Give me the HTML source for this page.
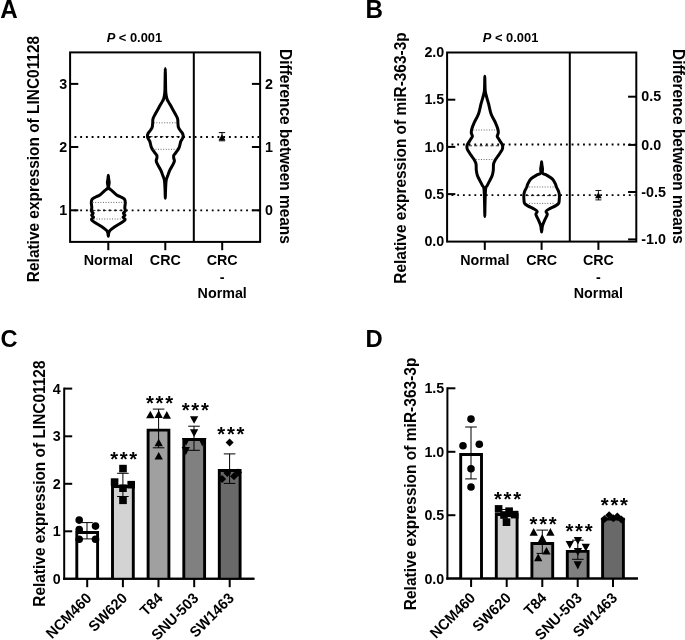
<!DOCTYPE html>
<html lang="en">
<head>
<meta charset="utf-8">
<title>Figure: LINC01128 and miR-363-3p expression</title>
<style>
html,body{margin:0;padding:0;background:#fff;}
body{width:685px;height:640px;overflow:hidden;}
svg{display:block;will-change:transform;}
svg text{font-family:"Liberation Sans", sans-serif;fill:#000;}
</style>
</head>
<body>
<svg width="685" height="640" viewBox="0 0 685 640">
<rect x="0" y="0" width="685" height="640" fill="#fff"/>
<text transform="translate(0.30 18.00) scale(1 1.03)" font-size="24.2" font-weight="bold" text-anchor="start">A</text>
<text transform="translate(365.60 18.00) scale(1 1.03)" font-size="24.2" font-weight="bold" text-anchor="start">B</text>
<text transform="translate(0.40 347.40) scale(1 1.03)" font-size="23.6" font-weight="bold" text-anchor="start">C</text>
<text transform="translate(365.60 347.40) scale(1 1.03)" font-size="23.8" font-weight="bold" text-anchor="start">D</text>
<rect x="70.10" y="52.40" width="190.00" height="189.50" fill="none" stroke="#000" stroke-width="2"/>
<line x1="193.80" y1="52.40" x2="193.80" y2="241.90" stroke="#000" stroke-width="2"/>
<text transform="translate(134.4 42.4) scale(1 1.03)" font-size="12.9" font-weight="bold" text-anchor="middle"><tspan font-style="italic">P</tspan> &lt; 0.001</text>
<line x1="70.10" y1="83.90" x2="78.30" y2="83.90" stroke="#000" stroke-width="2"/>
<text transform="translate(67.20 88.50) scale(1 1.03)" font-size="14.3" font-weight="bold" text-anchor="end">3</text>
<line x1="70.10" y1="147.00" x2="78.30" y2="147.00" stroke="#000" stroke-width="2"/>
<text transform="translate(67.20 151.60) scale(1 1.03)" font-size="14.3" font-weight="bold" text-anchor="end">2</text>
<line x1="70.10" y1="210.30" x2="78.30" y2="210.30" stroke="#000" stroke-width="2"/>
<text transform="translate(67.20 214.90) scale(1 1.03)" font-size="14.3" font-weight="bold" text-anchor="end">1</text>
<line x1="260.10" y1="83.90" x2="251.90" y2="83.90" stroke="#000" stroke-width="2"/>
<text transform="translate(265.00 88.50) scale(1 1.03)" font-size="14.3" font-weight="bold" text-anchor="start">2</text>
<line x1="260.10" y1="147.00" x2="251.90" y2="147.00" stroke="#000" stroke-width="2"/>
<text transform="translate(265.00 151.60) scale(1 1.03)" font-size="14.3" font-weight="bold" text-anchor="start">1</text>
<line x1="260.10" y1="210.30" x2="251.90" y2="210.30" stroke="#000" stroke-width="2"/>
<text transform="translate(265.00 214.90) scale(1 1.03)" font-size="14.3" font-weight="bold" text-anchor="start">0</text>
<line x1="108.30" y1="241.90" x2="108.30" y2="250.20" stroke="#000" stroke-width="2"/>
<line x1="165.30" y1="241.90" x2="165.30" y2="250.20" stroke="#000" stroke-width="2"/>
<line x1="222.20" y1="241.90" x2="222.20" y2="250.20" stroke="#000" stroke-width="2"/>
<text transform="translate(108.30 265.00) scale(1 1.03)" font-size="14.3" font-weight="bold" text-anchor="middle">Normal</text>
<text transform="translate(165.30 265.00) scale(1 1.03)" font-size="14.3" font-weight="bold" text-anchor="middle">CRC</text>
<text transform="translate(222.20 265.00) scale(1 1.03)" font-size="14.3" font-weight="bold" text-anchor="middle">CRC</text>
<text transform="translate(222.20 281.60) scale(1 1.03)" font-size="14.3" font-weight="bold" text-anchor="middle">-</text>
<text transform="translate(222.20 297.90) scale(1 1.03)" font-size="14.3" font-weight="bold" text-anchor="middle">Normal</text>
<text transform="translate(39.00 159.00) rotate(-90) scale(1 1.03)" font-size="15.45" font-weight="bold" text-anchor="middle">Relative expression of LINC01128</text>
<text transform="translate(280.30 146.50) rotate(90) scale(1 1.03)" font-size="15.45" font-weight="bold" text-anchor="middle">Difference between means</text>
<line x1="74.50" y1="137.00" x2="259.10" y2="137.00" stroke="#000" stroke-width="1.8" stroke-dasharray="1.85 3.87" stroke-dashoffset="0"/>
<line x1="74.50" y1="210.30" x2="259.10" y2="210.30" stroke="#000" stroke-width="1.8" stroke-dasharray="1.85 3.87" stroke-dashoffset="0"/>
<path d="M108.30 175.30 C108.40 175.30 108.45 177.30 108.60 178.50 C108.75 179.70 109.19 181.25 109.20 182.50 C109.21 183.75 108.73 185.08 108.65 186.00 C108.57 186.92 108.04 187.12 108.70 188.00 C109.36 188.88 111.27 190.12 112.60 191.30 C113.93 192.48 115.32 194.15 116.70 195.10 C118.08 196.05 119.60 196.30 120.90 197.00 C122.20 197.70 123.77 198.37 124.50 199.30 C125.23 200.23 125.25 201.20 125.30 202.60 C125.35 204.00 124.80 206.30 124.80 207.70 C124.80 209.10 125.53 210.08 125.30 211.00 C125.07 211.92 123.45 212.50 123.40 213.20 C123.35 213.90 125.07 214.53 125.00 215.20 C124.93 215.87 122.97 216.47 123.00 217.20 C123.03 217.93 125.48 218.68 125.20 219.60 C124.92 220.52 122.98 221.55 121.30 222.70 C119.62 223.85 116.95 225.23 115.10 226.50 C113.25 227.77 111.25 229.25 110.20 230.30 C109.15 231.35 109.12 231.80 108.80 232.80 C108.48 233.80 108.47 236.30 108.30 236.30 C108.13 236.30 108.12 233.80 107.80 232.80 C107.48 231.80 107.45 231.35 106.40 230.30 C105.35 229.25 103.35 227.77 101.50 226.50 C99.65 225.23 96.98 223.85 95.30 222.70 C93.62 221.55 91.68 220.52 91.40 219.60 C91.12 218.68 93.57 217.93 93.60 217.20 C93.63 216.47 91.67 215.87 91.60 215.20 C91.53 214.53 93.25 213.90 93.20 213.20 C93.15 212.50 91.53 211.92 91.30 211.00 C91.07 210.08 91.80 209.10 91.80 207.70 C91.80 206.30 91.25 204.00 91.30 202.60 C91.35 201.20 91.37 200.23 92.10 199.30 C92.83 198.37 94.40 197.70 95.70 197.00 C97.00 196.30 98.52 196.05 99.90 195.10 C101.28 194.15 102.67 192.48 104.00 191.30 C105.33 190.12 107.24 188.88 107.90 188.00 C108.56 187.12 108.03 186.92 107.95 186.00 C107.87 185.08 107.39 183.75 107.40 182.50 C107.41 181.25 107.85 179.70 108.00 178.50 C108.15 177.30 108.20 175.30 108.30 175.30Z" fill="none" stroke="#000" stroke-width="3.00" stroke-linejoin="round"/>
<line x1="92.60" y1="202.40" x2="124.00" y2="202.40" stroke="#555" stroke-width="0.9" stroke-dasharray="1 1.6"/>
<line x1="93.80" y1="219.00" x2="122.80" y2="219.00" stroke="#555" stroke-width="0.9" stroke-dasharray="1 1.6"/>
<line x1="92.30" y1="210.40" x2="124.30" y2="210.40" stroke="#111" stroke-width="0.85" stroke-dasharray="3.2 2.2"/>
<path d="M165.30 68.60 C165.37 68.60 165.42 76.03 165.50 80.00 C165.58 83.97 165.57 89.28 165.80 92.40 C166.03 95.52 166.50 97.20 166.90 98.70 C167.30 100.20 167.38 99.90 168.20 101.40 C169.02 102.90 170.62 105.60 171.80 107.70 C172.98 109.80 174.33 112.15 175.30 114.00 C176.27 115.85 177.17 117.33 177.60 118.80 C178.03 120.27 177.75 121.33 177.90 122.80 C178.05 124.27 177.98 126.18 178.50 127.60 C179.02 129.02 180.33 130.32 181.00 131.30 C181.67 132.28 182.13 132.75 182.50 133.50 C182.87 134.25 183.17 135.02 183.20 135.80 C183.23 136.58 183.10 137.27 182.70 138.20 C182.30 139.13 181.40 139.82 180.80 141.40 C180.20 142.98 179.92 145.82 179.10 147.70 C178.28 149.58 176.78 151.42 175.90 152.70 C175.02 153.98 174.17 154.52 173.80 155.40 C173.43 156.28 173.60 157.07 173.70 158.00 C173.80 158.93 174.60 159.77 174.40 161.00 C174.20 162.23 173.28 163.85 172.50 165.40 C171.72 166.95 170.47 168.65 169.70 170.30 C168.93 171.95 168.48 173.63 167.90 175.30 C167.32 176.97 166.59 177.85 166.20 180.30 C165.81 182.75 165.70 187.00 165.55 190.00 C165.40 193.00 165.38 198.30 165.30 198.30 C165.22 198.30 165.20 193.00 165.05 190.00 C164.90 187.00 164.79 182.75 164.40 180.30 C164.01 177.85 163.28 176.97 162.70 175.30 C162.12 173.63 161.67 171.95 160.90 170.30 C160.13 168.65 158.88 166.95 158.10 165.40 C157.32 163.85 156.40 162.23 156.20 161.00 C156.00 159.77 156.80 158.93 156.90 158.00 C157.00 157.07 157.17 156.28 156.80 155.40 C156.43 154.52 155.58 153.98 154.70 152.70 C153.82 151.42 152.32 149.58 151.50 147.70 C150.68 145.82 150.40 142.98 149.80 141.40 C149.20 139.82 148.30 139.13 147.90 138.20 C147.50 137.27 147.37 136.58 147.40 135.80 C147.43 135.02 147.73 134.25 148.10 133.50 C148.47 132.75 148.93 132.28 149.60 131.30 C150.27 130.32 151.58 129.02 152.10 127.60 C152.62 126.18 152.55 124.27 152.70 122.80 C152.85 121.33 152.57 120.27 153.00 118.80 C153.43 117.33 154.33 115.85 155.30 114.00 C156.27 112.15 157.62 109.80 158.80 107.70 C159.98 105.60 161.58 102.90 162.40 101.40 C163.22 99.90 163.30 100.20 163.70 98.70 C164.10 97.20 164.57 95.52 164.80 92.40 C165.03 89.28 165.02 83.97 165.10 80.00 C165.18 76.03 165.23 68.60 165.30 68.60Z" fill="none" stroke="#000" stroke-width="3.00" stroke-linejoin="round"/>
<line x1="153.80" y1="122.80" x2="176.80" y2="122.80" stroke="#555" stroke-width="0.9" stroke-dasharray="1 1.6"/>
<line x1="152.80" y1="149.30" x2="177.80" y2="149.30" stroke="#555" stroke-width="0.9" stroke-dasharray="1 1.6"/>
<line x1="149.30" y1="136.60" x2="181.30" y2="136.60" stroke="#111" stroke-width="0.85" stroke-dasharray="3.2 2.2"/>
<path d="M222.00 132.60V140.80 M218.85 132.60H225.15 M218.85 140.80H225.15" stroke="#000" stroke-width="1.0" fill="none"/>
<g fill="#000"><path d="M222.00 134.20 L225.40 140.30 L218.60 140.30Z"/></g>
<rect x="447.10" y="52.50" width="189.20" height="189.10" fill="none" stroke="#000" stroke-width="2"/>
<line x1="569.80" y1="52.50" x2="569.80" y2="241.60" stroke="#000" stroke-width="2"/>
<text transform="translate(510.6 42.4) scale(1 1.03)" font-size="12.9" font-weight="bold" text-anchor="middle"><tspan font-style="italic">P</tspan> &lt; 0.001</text>
<text transform="translate(444.30 57.10) scale(1 1.03)" font-size="14.3" font-weight="bold" text-anchor="end">2.0</text>
<line x1="447.10" y1="99.70" x2="455.30" y2="99.70" stroke="#000" stroke-width="2"/>
<text transform="translate(444.30 104.30) scale(1 1.03)" font-size="14.3" font-weight="bold" text-anchor="end">1.5</text>
<line x1="447.10" y1="146.90" x2="455.30" y2="146.90" stroke="#000" stroke-width="2"/>
<text transform="translate(444.30 151.50) scale(1 1.03)" font-size="14.3" font-weight="bold" text-anchor="end">1.0</text>
<line x1="447.10" y1="194.10" x2="455.30" y2="194.10" stroke="#000" stroke-width="2"/>
<text transform="translate(444.30 198.70) scale(1 1.03)" font-size="14.3" font-weight="bold" text-anchor="end">0.5</text>
<text transform="translate(444.30 246.00) scale(1 1.03)" font-size="14.3" font-weight="bold" text-anchor="end">0.0</text>
<line x1="636.30" y1="96.70" x2="628.10" y2="96.70" stroke="#000" stroke-width="2"/>
<text transform="translate(641.30 101.30) scale(1 1.03)" font-size="14.3" font-weight="bold" text-anchor="start">0.5</text>
<line x1="636.30" y1="144.90" x2="628.10" y2="144.90" stroke="#000" stroke-width="2"/>
<text transform="translate(641.30 149.50) scale(1 1.03)" font-size="14.3" font-weight="bold" text-anchor="start">0.0</text>
<line x1="636.30" y1="192.00" x2="628.10" y2="192.00" stroke="#000" stroke-width="2"/>
<text transform="translate(641.30 196.60) scale(1 1.03)" font-size="14.3" font-weight="bold" text-anchor="start">-0.5</text>
<line x1="636.30" y1="239.40" x2="628.10" y2="239.40" stroke="#000" stroke-width="2"/>
<text transform="translate(641.30 244.00) scale(1 1.03)" font-size="14.3" font-weight="bold" text-anchor="start">-1.0</text>
<line x1="484.80" y1="241.60" x2="484.80" y2="249.90" stroke="#000" stroke-width="2"/>
<line x1="541.60" y1="241.60" x2="541.60" y2="249.90" stroke="#000" stroke-width="2"/>
<line x1="598.40" y1="241.60" x2="598.40" y2="249.90" stroke="#000" stroke-width="2"/>
<text transform="translate(484.80 265.00) scale(1 1.03)" font-size="14.3" font-weight="bold" text-anchor="middle">Normal</text>
<text transform="translate(541.60 265.00) scale(1 1.03)" font-size="14.3" font-weight="bold" text-anchor="middle">CRC</text>
<text transform="translate(598.40 265.00) scale(1 1.03)" font-size="14.3" font-weight="bold" text-anchor="middle">CRC</text>
<text transform="translate(598.40 281.60) scale(1 1.03)" font-size="14.3" font-weight="bold" text-anchor="middle">-</text>
<text transform="translate(598.40 297.90) scale(1 1.03)" font-size="14.3" font-weight="bold" text-anchor="middle">Normal</text>
<text transform="translate(405.60 158.00) rotate(-90) scale(1 1.03)" font-size="15.45" font-weight="bold" text-anchor="middle">Relative expression of miR-363-3p</text>
<text transform="translate(673.30 146.50) rotate(90) scale(1 1.03)" font-size="15.45" font-weight="bold" text-anchor="middle">Difference between means</text>
<line x1="451.50" y1="144.50" x2="635.30" y2="144.50" stroke="#000" stroke-width="1.8" stroke-dasharray="1.85 3.87" stroke-dashoffset="0"/>
<line x1="451.50" y1="195.20" x2="635.30" y2="195.20" stroke="#000" stroke-width="1.8" stroke-dasharray="1.85 3.87" stroke-dashoffset="0"/>
<path d="M484.80 76.30 C484.85 76.30 484.87 81.48 484.95 84.00 C485.03 86.52 484.99 89.12 485.30 91.40 C485.61 93.68 486.25 95.62 486.80 97.70 C487.35 99.78 487.88 101.18 488.60 103.90 C489.32 106.62 489.95 110.85 491.10 114.00 C492.25 117.15 494.38 120.30 495.50 122.80 C496.62 125.30 497.33 127.33 497.80 129.00 C498.27 130.67 498.40 131.60 498.30 132.80 C498.20 134.00 497.15 135.20 497.20 136.20 C497.25 137.20 498.00 137.78 498.60 138.80 C499.20 139.82 500.20 141.35 500.80 142.30 C501.40 143.25 501.88 143.72 502.20 144.50 C502.52 145.28 502.70 146.17 502.70 147.00 C502.70 147.83 502.52 148.72 502.20 149.50 C501.88 150.28 501.40 150.75 500.80 151.70 C500.20 152.65 499.48 153.90 498.60 155.20 C497.72 156.50 496.33 158.05 495.50 159.50 C494.67 160.95 493.97 162.12 493.60 163.90 C493.23 165.68 493.52 168.32 493.30 170.20 C493.08 172.08 492.87 173.52 492.30 175.20 C491.73 176.88 490.73 178.62 489.90 180.30 C489.07 181.98 488.02 183.83 487.30 185.30 C486.58 186.77 485.98 185.82 485.60 189.10 C485.22 192.38 485.13 200.43 485.00 205.00 C484.87 209.57 484.87 216.50 484.80 216.50 C484.73 216.50 484.73 209.57 484.60 205.00 C484.47 200.43 484.38 192.38 484.00 189.10 C483.62 185.82 483.02 186.77 482.30 185.30 C481.58 183.83 480.53 181.98 479.70 180.30 C478.87 178.62 477.87 176.88 477.30 175.20 C476.73 173.52 476.52 172.08 476.30 170.20 C476.08 168.32 476.37 165.68 476.00 163.90 C475.63 162.12 474.93 160.95 474.10 159.50 C473.27 158.05 471.88 156.50 471.00 155.20 C470.12 153.90 469.40 152.65 468.80 151.70 C468.20 150.75 467.72 150.28 467.40 149.50 C467.08 148.72 466.90 147.83 466.90 147.00 C466.90 146.17 467.08 145.28 467.40 144.50 C467.72 143.72 468.20 143.25 468.80 142.30 C469.40 141.35 470.40 139.82 471.00 138.80 C471.60 137.78 472.35 137.20 472.40 136.20 C472.45 135.20 471.40 134.00 471.30 132.80 C471.20 131.60 471.33 130.67 471.80 129.00 C472.27 127.33 472.98 125.30 474.10 122.80 C475.22 120.30 477.35 117.15 478.50 114.00 C479.65 110.85 480.28 106.62 481.00 103.90 C481.72 101.18 482.25 99.78 482.80 97.70 C483.35 95.62 483.99 93.68 484.30 91.40 C484.61 89.12 484.57 86.52 484.65 84.00 C484.73 81.48 484.75 76.30 484.80 76.30Z" fill="none" stroke="#000" stroke-width="3.00" stroke-linejoin="round"/>
<line x1="473.30" y1="130.00" x2="496.30" y2="130.00" stroke="#555" stroke-width="0.9" stroke-dasharray="1 1.6"/>
<line x1="475.80" y1="159.50" x2="493.80" y2="159.50" stroke="#555" stroke-width="0.9" stroke-dasharray="1 1.6"/>
<line x1="468.80" y1="145.80" x2="500.80" y2="145.80" stroke="#111" stroke-width="0.85" stroke-dasharray="3.2 2.2"/>
<path d="M541.60 161.80 C541.68 161.80 541.70 163.33 541.85 164.50 C542.00 165.67 542.38 167.35 542.50 168.80 C542.62 170.25 541.92 172.15 542.60 173.20 C543.28 174.25 544.98 174.15 546.60 175.10 C548.22 176.05 550.83 177.43 552.30 178.90 C553.77 180.37 554.72 182.55 555.40 183.90 C556.08 185.25 555.87 185.75 556.40 187.00 C556.93 188.25 558.10 190.03 558.60 191.40 C559.10 192.77 559.30 193.73 559.40 195.20 C559.50 196.67 559.33 198.83 559.20 200.20 C559.07 201.57 559.23 202.45 558.60 203.40 C557.97 204.35 556.98 204.97 555.40 205.90 C553.82 206.83 550.67 208.07 549.10 209.00 C547.53 209.93 546.30 210.67 546.00 211.50 C545.70 212.33 547.22 213.17 547.30 214.00 C547.38 214.83 546.95 215.45 546.50 216.50 C546.05 217.55 545.25 218.83 544.60 220.30 C543.95 221.77 543.03 223.85 542.60 225.30 C542.17 226.75 542.17 227.88 542.00 229.00 C541.83 230.12 541.73 232.00 541.60 232.00 C541.47 232.00 541.37 230.12 541.20 229.00 C541.03 227.88 541.03 226.75 540.60 225.30 C540.17 223.85 539.25 221.77 538.60 220.30 C537.95 218.83 537.15 217.55 536.70 216.50 C536.25 215.45 535.82 214.83 535.90 214.00 C535.98 213.17 537.50 212.33 537.20 211.50 C536.90 210.67 535.67 209.93 534.10 209.00 C532.53 208.07 529.38 206.83 527.80 205.90 C526.22 204.97 525.23 204.35 524.60 203.40 C523.97 202.45 524.13 201.57 524.00 200.20 C523.87 198.83 523.70 196.67 523.80 195.20 C523.90 193.73 524.10 192.77 524.60 191.40 C525.10 190.03 526.27 188.25 526.80 187.00 C527.33 185.75 527.12 185.25 527.80 183.90 C528.48 182.55 529.43 180.37 530.90 178.90 C532.37 177.43 534.98 176.05 536.60 175.10 C538.22 174.15 539.92 174.25 540.60 173.20 C541.28 172.15 540.58 170.25 540.70 168.80 C540.83 167.35 541.20 165.67 541.35 164.50 C541.50 163.33 541.52 161.80 541.60 161.80Z" fill="none" stroke="#000" stroke-width="3.00" stroke-linejoin="round"/>
<line x1="529.10" y1="187.00" x2="554.10" y2="187.00" stroke="#555" stroke-width="0.9" stroke-dasharray="1 1.6"/>
<line x1="529.10" y1="203.40" x2="554.10" y2="203.40" stroke="#555" stroke-width="0.9" stroke-dasharray="1 1.6"/>
<line x1="525.60" y1="195.60" x2="557.60" y2="195.60" stroke="#111" stroke-width="0.85" stroke-dasharray="3.2 2.2"/>
<path d="M598.40 190.50V199.90 M595.40 190.50H601.40 M595.40 199.90H601.40" stroke="#000" stroke-width="0.9" fill="none"/>
<g fill="#000"><path d="M598.40 192.20 L601.80 198.20 L595.00 198.20Z"/></g>
<line x1="64.20" y1="387.60" x2="64.20" y2="579.80" stroke="#000" stroke-width="2"/>
<line x1="63.20" y1="578.80" x2="254.40" y2="578.80" stroke="#000" stroke-width="2"/>
<line x1="64.20" y1="388.60" x2="72.20" y2="388.60" stroke="#000" stroke-width="2"/>
<text transform="translate(60.60 393.70) scale(1 1.03)" font-size="14.3" font-weight="bold" text-anchor="end">4</text>
<line x1="64.20" y1="436.30" x2="72.20" y2="436.30" stroke="#000" stroke-width="2"/>
<text transform="translate(60.60 441.40) scale(1 1.03)" font-size="14.3" font-weight="bold" text-anchor="end">3</text>
<line x1="64.20" y1="483.80" x2="72.20" y2="483.80" stroke="#000" stroke-width="2"/>
<text transform="translate(60.60 488.90) scale(1 1.03)" font-size="14.3" font-weight="bold" text-anchor="end">2</text>
<line x1="64.20" y1="531.30" x2="72.20" y2="531.30" stroke="#000" stroke-width="2"/>
<text transform="translate(60.60 536.40) scale(1 1.03)" font-size="14.3" font-weight="bold" text-anchor="end">1</text>
<text transform="translate(60.60 583.90) scale(1 1.03)" font-size="14.3" font-weight="bold" text-anchor="end">0</text>
<text transform="translate(44.60 483.60) rotate(-90) scale(1 1.03)" font-size="15.45" font-weight="bold" text-anchor="middle">Relative expression of LINC01128</text>
<rect x="76.80" y="532.45" width="20.80" height="46.35" fill="#fff"/><path d="M76.80 578.80V532.45H97.60V578.80" fill="none" stroke="#000" stroke-width="2.9" stroke-linejoin="miter"/>
<line x1="87.20" y1="578.80" x2="87.20" y2="587.20" stroke="#000" stroke-width="2"/>
<text transform="translate(92.40 599.10) rotate(-45) scale(1 1.03)" font-size="14.45" font-weight="bold" text-anchor="end">NCM460</text>
<rect x="112.50" y="486.45" width="20.80" height="92.35" fill="#d3d3d3"/><path d="M112.50 578.80V486.45H133.30V578.80" fill="none" stroke="#000" stroke-width="2.9" stroke-linejoin="miter"/>
<line x1="122.90" y1="578.80" x2="122.90" y2="587.20" stroke="#000" stroke-width="2"/>
<text transform="translate(128.10 599.10) rotate(-45) scale(1 1.03)" font-size="14.45" font-weight="bold" text-anchor="end">SW620</text>
<rect x="148.10" y="430.15" width="20.80" height="148.65" fill="#a0a0a0"/><path d="M148.10 578.80V430.15H168.90V578.80" fill="none" stroke="#000" stroke-width="2.9" stroke-linejoin="miter"/>
<line x1="158.50" y1="578.80" x2="158.50" y2="587.20" stroke="#000" stroke-width="2"/>
<text transform="translate(163.70 599.10) rotate(-45) scale(1 1.03)" font-size="14.45" font-weight="bold" text-anchor="end">T84</text>
<rect x="183.80" y="439.55" width="20.80" height="139.25" fill="#808080"/><path d="M183.80 578.80V439.55H204.60V578.80" fill="none" stroke="#000" stroke-width="2.9" stroke-linejoin="miter"/>
<line x1="194.20" y1="578.80" x2="194.20" y2="587.20" stroke="#000" stroke-width="2"/>
<text transform="translate(199.40 599.10) rotate(-45) scale(1 1.03)" font-size="14.45" font-weight="bold" text-anchor="end">SNU-503</text>
<rect x="219.30" y="470.45" width="20.80" height="108.35" fill="#696969"/><path d="M219.30 578.80V470.45H240.10V578.80" fill="none" stroke="#000" stroke-width="2.9" stroke-linejoin="miter"/>
<line x1="229.70" y1="578.80" x2="229.70" y2="587.20" stroke="#000" stroke-width="2"/>
<text transform="translate(234.90 599.10) rotate(-45) scale(1 1.03)" font-size="14.45" font-weight="bold" text-anchor="end">SW1463</text>
<line x1="63.20" y1="578.80" x2="254.40" y2="578.80" stroke="#000" stroke-width="2"/>
<path d="M87.00 522.60V538.90 M81.20 522.60H92.80 M81.20 538.90H92.80" stroke="#000" stroke-width="1.0" fill="none"/>
<path d="M122.90 473.30V496.50 M117.10 473.30H128.70 M117.10 496.50H128.70" stroke="#000" stroke-width="1.0" fill="none"/>
<path d="M158.60 409.10V447.80 M152.80 409.10H164.40 M152.80 447.80H164.40" stroke="#000" stroke-width="1.0" fill="none"/>
<path d="M194.00 426.20V450.30 M188.20 426.20H199.80 M188.20 450.30H199.80" stroke="#000" stroke-width="1.0" fill="none"/>
<path d="M229.60 453.90V483.40 M223.80 453.90H235.40 M223.80 483.40H235.40" stroke="#000" stroke-width="1.0" fill="none"/>
<g fill="#000">
<circle cx="79.20" cy="520.10" r="3.80"/>
<circle cx="95.50" cy="526.10" r="3.80"/>
<circle cx="79.20" cy="529.50" r="3.80"/>
<circle cx="79.20" cy="539.20" r="3.80"/>
<circle cx="95.50" cy="539.20" r="3.80"/>
<rect x="119.20" y="464.80" width="7.60" height="7.60"/>
<rect x="110.80" y="478.30" width="7.60" height="7.60"/>
<rect x="127.40" y="480.90" width="7.60" height="7.60"/>
<rect x="119.20" y="484.40" width="7.60" height="7.60"/>
<rect x="119.20" y="496.50" width="7.60" height="7.60"/>
<path d="M150.30 410.80 L154.45 418.30 L146.15 418.30Z"/>
<path d="M158.70 410.20 L162.85 418.00 L154.55 418.00Z"/>
<path d="M166.80 411.10 L170.95 418.70 L162.65 418.70Z"/>
<path d="M158.70 438.80 L162.85 446.30 L154.55 446.30Z"/>
<path d="M158.70 451.90 L162.85 459.50 L154.55 459.50Z"/>
<path d="M194.10 423.80 L198.25 416.30 L189.95 416.30Z"/>
<path d="M194.10 437.00 L198.25 429.20 L189.95 429.20Z"/>
<path d="M186.00 445.70 L190.15 437.90 L181.85 437.90Z"/>
<path d="M202.40 446.40 L206.55 438.20 L198.25 438.20Z"/>
<path d="M185.80 455.20 L189.95 447.00 L181.65 447.00Z"/>
<path d="M229.60 438.60 L233.60 442.60 L229.60 446.60 L225.60 442.60Z"/>
<path d="M222.10 475.00 L226.10 479.00 L222.10 483.00 L218.10 479.00Z"/>
<path d="M227.30 469.00 L231.30 473.00 L227.30 477.00 L223.30 473.00Z"/>
<path d="M234.00 472.20 L238.00 476.20 L234.00 480.20 L230.00 476.20Z"/>
<path d="M238.00 468.60 L242.00 472.60 L238.00 476.60 L234.00 472.60Z"/>
</g>
<text transform="translate(124.55 465.50) scale(1 1.03)" font-size="20.3" font-weight="bold" text-anchor="middle" letter-spacing="1.7">***</text>
<text transform="translate(160.35 410.30) scale(1 1.03)" font-size="20.3" font-weight="bold" text-anchor="middle" letter-spacing="1.7">***</text>
<text transform="translate(196.15 417.40) scale(1 1.03)" font-size="20.3" font-weight="bold" text-anchor="middle" letter-spacing="1.7">***</text>
<text transform="translate(231.75 440.80) scale(1 1.03)" font-size="20.3" font-weight="bold" text-anchor="middle" letter-spacing="1.7">***</text>
<line x1="447.40" y1="387.30" x2="447.40" y2="579.60" stroke="#000" stroke-width="2"/>
<line x1="446.40" y1="578.60" x2="637.90" y2="578.60" stroke="#000" stroke-width="2"/>
<line x1="447.40" y1="388.30" x2="455.40" y2="388.30" stroke="#000" stroke-width="2"/>
<text transform="translate(444.30 393.40) scale(1 1.03)" font-size="14.3" font-weight="bold" text-anchor="end">1.5</text>
<line x1="447.40" y1="451.80" x2="455.40" y2="451.80" stroke="#000" stroke-width="2"/>
<text transform="translate(444.30 456.90) scale(1 1.03)" font-size="14.3" font-weight="bold" text-anchor="end">1.0</text>
<line x1="447.40" y1="515.20" x2="455.40" y2="515.20" stroke="#000" stroke-width="2"/>
<text transform="translate(444.30 520.30) scale(1 1.03)" font-size="14.3" font-weight="bold" text-anchor="end">0.5</text>
<text transform="translate(444.30 583.70) scale(1 1.03)" font-size="14.3" font-weight="bold" text-anchor="end">0.0</text>
<text transform="translate(416.10 483.90) rotate(-90) scale(1 1.03)" font-size="15.52" font-weight="bold" text-anchor="middle">Relative expression of miR-363-3p</text>
<rect x="460.70" y="454.45" width="20.80" height="124.15" fill="#fff"/><path d="M460.70 578.60V454.45H481.50V578.60" fill="none" stroke="#000" stroke-width="2.9" stroke-linejoin="miter"/>
<line x1="471.10" y1="578.60" x2="471.10" y2="587.00" stroke="#000" stroke-width="2"/>
<text transform="translate(476.30 598.90) rotate(-45) scale(1 1.03)" font-size="14.45" font-weight="bold" text-anchor="end">NCM460</text>
<rect x="496.30" y="514.45" width="20.80" height="64.15" fill="#d3d3d3"/><path d="M496.30 578.60V514.45H517.10V578.60" fill="none" stroke="#000" stroke-width="2.9" stroke-linejoin="miter"/>
<line x1="506.70" y1="578.60" x2="506.70" y2="587.00" stroke="#000" stroke-width="2"/>
<text transform="translate(511.90 598.90) rotate(-45) scale(1 1.03)" font-size="14.45" font-weight="bold" text-anchor="end">SW620</text>
<rect x="531.90" y="543.45" width="20.80" height="35.15" fill="#a0a0a0"/><path d="M531.90 578.60V543.45H552.70V578.60" fill="none" stroke="#000" stroke-width="2.9" stroke-linejoin="miter"/>
<line x1="542.30" y1="578.60" x2="542.30" y2="587.00" stroke="#000" stroke-width="2"/>
<text transform="translate(547.50 598.90) rotate(-45) scale(1 1.03)" font-size="14.45" font-weight="bold" text-anchor="end">T84</text>
<rect x="567.30" y="551.35" width="20.80" height="27.25" fill="#808080"/><path d="M567.30 578.60V551.35H588.10V578.60" fill="none" stroke="#000" stroke-width="2.9" stroke-linejoin="miter"/>
<line x1="577.70" y1="578.60" x2="577.70" y2="587.00" stroke="#000" stroke-width="2"/>
<text transform="translate(582.90 598.90) rotate(-45) scale(1 1.03)" font-size="14.45" font-weight="bold" text-anchor="end">SNU-503</text>
<rect x="602.60" y="519.15" width="20.80" height="59.45" fill="#696969"/><path d="M602.60 578.60V519.15H623.40V578.60" fill="none" stroke="#000" stroke-width="2.9" stroke-linejoin="miter"/>
<line x1="613.00" y1="578.60" x2="613.00" y2="587.00" stroke="#000" stroke-width="2"/>
<text transform="translate(618.20 598.90) rotate(-45) scale(1 1.03)" font-size="14.45" font-weight="bold" text-anchor="end">SW1463</text>
<line x1="446.40" y1="578.60" x2="637.90" y2="578.60" stroke="#000" stroke-width="2"/>
<path d="M471.00 427.00V478.90 M465.20 427.00H476.80 M465.20 478.90H476.80" stroke="#000" stroke-width="1.0" fill="none"/>
<path d="M506.70 509.50V516.50 M500.90 509.50H512.50 M500.90 516.50H512.50" stroke="#000" stroke-width="1.0" fill="none"/>
<path d="M542.30 530.10V553.40 M536.50 530.10H548.10 M536.50 553.40H548.10" stroke="#000" stroke-width="1.0" fill="none"/>
<path d="M577.80 540.20V559.30 M572.00 540.20H583.60 M572.00 559.30H583.60" stroke="#000" stroke-width="1.0" fill="none"/>
<g fill="#000">
<circle cx="471.00" cy="419.10" r="3.80"/>
<circle cx="463.00" cy="445.80" r="3.80"/>
<circle cx="479.30" cy="444.20" r="3.80"/>
<circle cx="471.00" cy="468.70" r="3.80"/>
<circle cx="471.00" cy="487.00" r="3.80"/>
<rect x="494.80" y="505.10" width="7.60" height="7.60"/>
<rect x="505.30" y="507.40" width="7.60" height="7.60"/>
<rect x="510.90" y="510.80" width="7.60" height="7.60"/>
<rect x="500.20" y="511.20" width="7.60" height="7.60"/>
<rect x="502.70" y="518.40" width="7.60" height="7.60"/>
<path d="M533.70 527.90 L537.85 535.80 L529.55 535.80Z"/>
<path d="M550.40 527.90 L554.55 535.80 L546.25 535.80Z"/>
<path d="M542.20 534.00 L546.35 541.90 L538.05 541.90Z"/>
<path d="M546.50 546.90 L550.65 554.50 L542.35 554.50Z"/>
<path d="M538.20 553.40 L542.35 561.20 L534.05 561.20Z"/>
<path d="M577.90 544.50 L582.05 536.90 L573.75 536.90Z"/>
<path d="M569.80 548.80 L573.95 540.90 L565.65 540.90Z"/>
<path d="M585.80 551.50 L589.95 543.80 L581.65 543.80Z"/>
<path d="M577.90 555.70 L582.05 547.90 L573.75 547.90Z"/>
<path d="M577.80 569.50 L581.95 561.30 L573.65 561.30Z"/>
<path d="M609.10 511.20 L613.10 515.20 L609.10 519.20 L605.10 515.20Z"/>
<path d="M617.30 512.40 L621.30 516.40 L617.30 520.40 L613.30 516.40Z"/>
<path d="M604.50 514.90 L608.50 518.90 L604.50 522.90 L600.50 518.90Z"/>
<path d="M621.40 515.50 L625.40 519.50 L621.40 523.50 L617.40 519.50Z"/>
<path d="M613.30 514.30 L617.30 518.30 L613.30 522.30 L609.30 518.30Z"/>
</g>
<text transform="translate(508.35 506.20) scale(1 1.03)" font-size="20.3" font-weight="bold" text-anchor="middle" letter-spacing="1.7">***</text>
<text transform="translate(543.95 530.90) scale(1 1.03)" font-size="20.3" font-weight="bold" text-anchor="middle" letter-spacing="1.7">***</text>
<text transform="translate(579.85 537.70) scale(1 1.03)" font-size="20.3" font-weight="bold" text-anchor="middle" letter-spacing="1.7">***</text>
<text transform="translate(615.25 511.80) scale(1 1.03)" font-size="20.3" font-weight="bold" text-anchor="middle" letter-spacing="1.7">***</text>
</svg>
</body>
</html>
